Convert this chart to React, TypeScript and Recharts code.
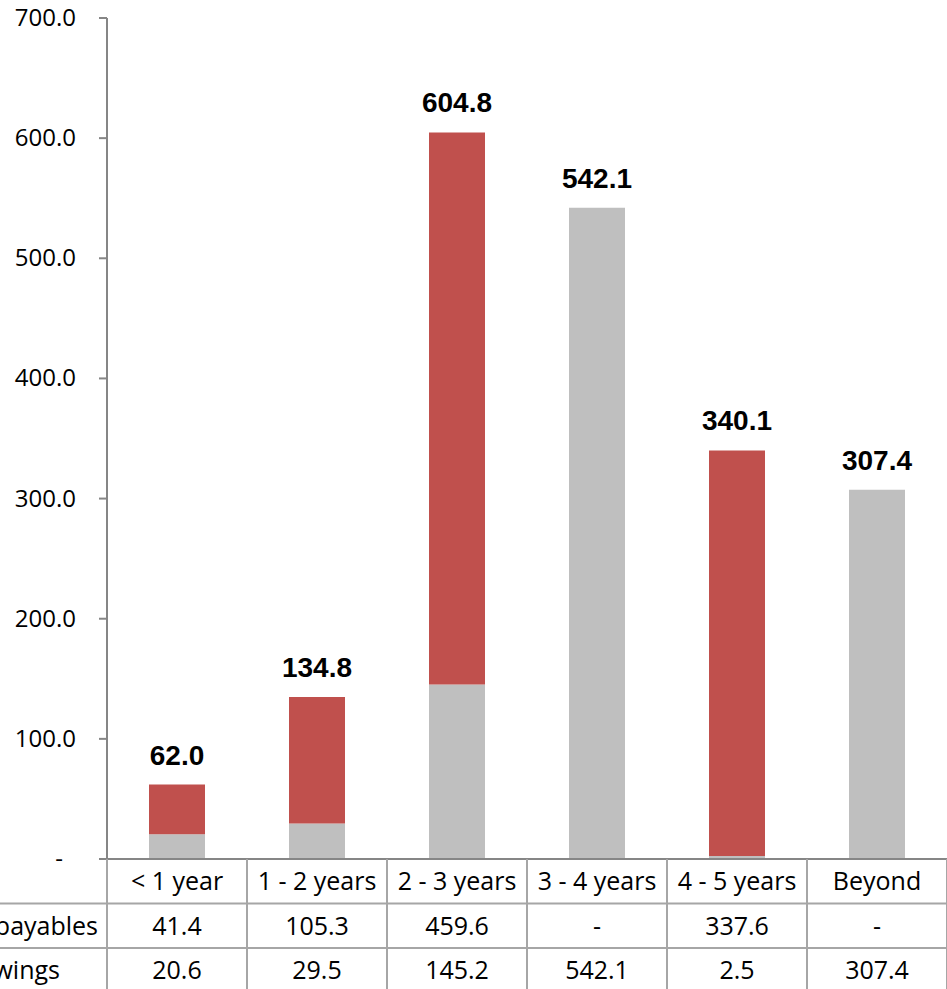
import React from 'react';
import { BarChart, Bar, XAxis, YAxis, LabelList, Customized } from 'recharts';

const categories = ['< 1 year', '1 - 2 years', '2 - 3 years', '3 - 4 years', '4 - 5 years', 'Beyond'];
const payables = [41.4, 105.3, 459.6, 0, 337.6, 0];
const borrowings = [20.6, 29.5, 145.2, 542.1, 2.5, 307.4];
const totals = [62.0, 134.8, 604.8, 542.1, 340.1, 307.4];
const yTicks = [0, 100, 200, 300, 400, 500, 600, 700];
const rowLabels = ['Trade payables', 'Borrowings'];

const data = categories.map((name, i) => ({
  name,
  borrowings: borrowings[i],
  payables: payables[i],
  topLabel: payables[i] > 0 ? totals[i] : null,
  baseLabel: payables[i] > 0 ? null : totals[i],
}));

const W = 947;
const H = 989;
const PLOT_LEFT = 107;
const PLOT_TOP = 18;
const PLOT_BOTTOM = 859;
const BAND = (W - PLOT_LEFT) / categories.length;
const ROW_H = 44.5;
const GRID = '#a6a6a6';
const AXIS = '#868686';
const TABLE_FONT = "'Open Sans', sans-serif";
const ROW_LABEL_END = [98, 60];

const fmt = (v: number) => (v === 0 ? '-' : v.toFixed(1));

const YTick = (props: any) => {
  const { x, y, payload } = props;
  const v = payload.value as number;
  return (
    <text
      x={v === 0 ? x - 13 : x}
      y={y}
      dy={8}
      textAnchor="end"
      fill="#000"
      fontSize={24}
      fontFamily={TABLE_FONT}
    >
      {fmt(v)}
    </text>
  );
};

const XTick = (props: any) => {
  const { x, payload } = props;
  const i = payload.index as number;
  const rows = [payables[i], borrowings[i]];
  return (
    <g>
      <line x1={x + BAND / 2} x2={x + BAND / 2} y1={PLOT_BOTTOM} y2={H} stroke={GRID} strokeWidth={2} />
      {i === 0 && (
        <line x1={x - BAND / 2} x2={x - BAND / 2} y1={PLOT_BOTTOM} y2={H} stroke={GRID} strokeWidth={2} />
      )}
      <text x={x} y={PLOT_BOTTOM + ROW_H / 2} dy={9} textAnchor="middle" fontSize={25} fontFamily={TABLE_FONT} fill="#000">
        {categories[i]}
      </text>
      {rows.map((v, r) => (
        <text
          key={r}
          x={x}
          y={PLOT_BOTTOM + ROW_H * (r + 1.5)}
          dy={9}
          textAnchor="middle"
          fontSize={25}
          fontFamily={TABLE_FONT}
          fill="#000"
        >
          {fmt(v)}
        </text>
      ))}
    </g>
  );
};

const TableFrame = () => (
  <g>
    {[1, 2].map((r) => (
      <line key={r} x1={0} x2={W} y1={PLOT_BOTTOM + ROW_H * r} y2={PLOT_BOTTOM + ROW_H * r} stroke={GRID} strokeWidth={2} />
    ))}
    {rowLabels.map((t, r) => (
      <text
        key={t}
        x={ROW_LABEL_END[r]}
        y={PLOT_BOTTOM + ROW_H * (r + 1.5)}
        dy={9}
        textAnchor="end"
        fontSize={25}
        fontFamily={TABLE_FONT}
        fill="#000"
      >
        {t}
      </text>
    ))}
  </g>
);

const TotalLabel = (props: any) => {
  const { x, y, width, value } = props;
  if (value === null || value === undefined || value === '') return null;
  return (
    <text
      x={x + width / 2}
      y={y - 20}
      textAnchor="middle"
      fontSize={28}
      fontWeight="bold"
      fontFamily="'Liberation Sans', Arial, sans-serif"
      fill="#000"
    >
      {Number(value).toFixed(1)}
    </text>
  );
};

export default function App() {
  return (
    <div style={{ position: 'absolute', left: 0, top: 0, width: W, height: H, background: '#fff' }}>
      <BarChart
        width={W}
        height={H}
        data={data}
        margin={{ top: PLOT_TOP, right: 0, left: 0, bottom: 0 }}
        barCategoryGap={0}
        barSize={56}
      >
        <Customized component={TableFrame} />
        <YAxis
          width={PLOT_LEFT}
          domain={[0, 700]}
          ticks={yTicks}
          interval={0}
          tickSize={8}
          tickMargin={23}
          tick={<YTick />}
          axisLine={{ stroke: AXIS, strokeWidth: 2 }}
          tickLine={{ stroke: AXIS, strokeWidth: 2 }}
        />
        <XAxis
          dataKey="name"
          height={H - PLOT_BOTTOM}
          interval={0}
          tickLine={false}
          axisLine={{ stroke: AXIS, strokeWidth: 2 }}
          tick={<XTick />}
        />
        <Bar dataKey="borrowings" stackId="a" fill="#BFBFBF" isAnimationActive={false}>
          <LabelList dataKey="baseLabel" content={<TotalLabel />} />
        </Bar>
        <Bar dataKey="payables" stackId="a" fill="#C0504D" isAnimationActive={false}>
          <LabelList dataKey="topLabel" content={<TotalLabel />} />
        </Bar>
      </BarChart>
    </div>
  );
}
